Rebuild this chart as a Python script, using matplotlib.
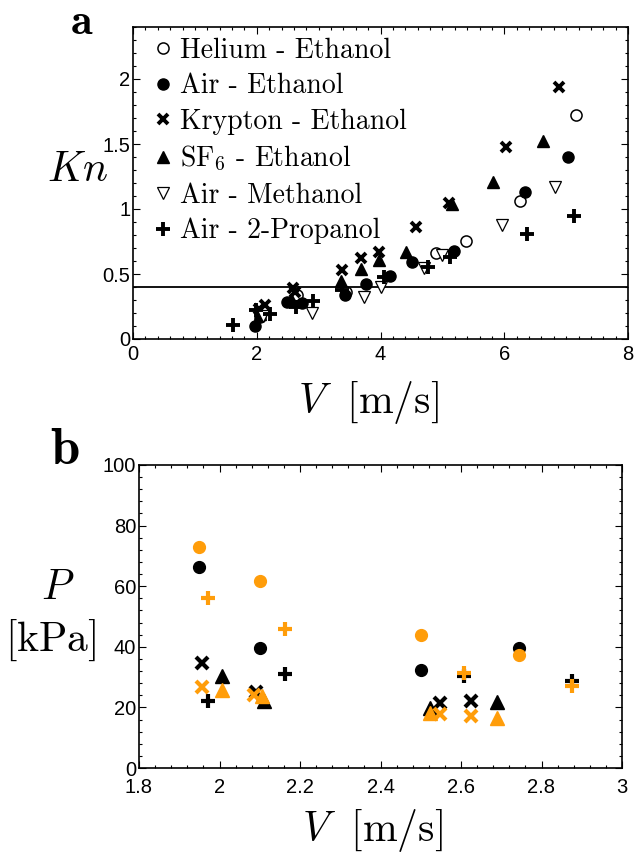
import matplotlib
matplotlib.use("Agg")
import matplotlib.pyplot as plt
from matplotlib.ticker import MultipleLocator

plt.rcParams['mathtext.fontset'] = 'cm'
plt.rcParams['font.family'] = ['Liberation Sans', 'DejaVu Sans']

# ---------------- Panel a data: Kn vs V ----------------
he_eth_V  = [7.16, 6.25, 5.38, 4.89, 3.45, 2.65]
he_eth_Kn = [1.72, 1.06, 0.756, 0.66, 0.36, 0.34]

air_eth_V  = [7.03, 6.33, 5.18, 4.51, 4.16, 3.77, 3.42, 2.73, 2.49, 2.06, 1.97]
air_eth_Kn = [1.40, 1.13, 0.68, 0.59, 0.485, 0.423, 0.34, 0.28, 0.287, 0.17, 0.10]

kr_eth_V  = [6.89, 6.03, 5.10, 4.58, 3.98, 3.69, 3.38, 2.58, 2.62, 2.13, 2.03]
kr_eth_Kn = [1.936, 1.48, 1.05, 0.86, 0.67, 0.62, 0.53, 0.39, 0.36, 0.26, 0.23]

sf6_eth_V  = [6.62, 5.82, 5.15, 4.42, 3.98, 3.69, 3.36, 2.55, 2.05]
sf6_eth_Kn = [1.52, 1.21, 1.04, 0.67, 0.61, 0.54, 0.45, 0.31, 0.19]

air_meth_V  = [6.82, 5.97, 5.00, 4.70, 4.01, 3.73, 2.89, 2.10]
air_meth_Kn = [1.17, 0.88, 0.65, 0.55, 0.40, 0.326, 0.20, 0.18]

air_prop_V  = [7.12, 6.37, 5.12, 4.76, 4.05, 3.38, 2.91, 2.63, 2.22, 1.98, 1.62]
air_prop_Kn = [0.95, 0.81, 0.63, 0.556, 0.48, 0.377, 0.29, 0.25, 0.19, 0.22, 0.108]

kn_threshold = 0.4

# ---------------- Panel b data: P vs V ----------------
circ_blk_V = [1.95, 2.10, 2.50, 2.745]
circ_blk_P = [66.2, 39.5, 32.3, 39.7]
circ_org_V = [1.95, 2.10, 2.50, 2.745]
circ_org_P = [73.0, 61.8, 43.9, 37.3]

x_blk_V = [1.957, 2.09, 2.548, 2.626]
x_blk_P = [34.5, 25.2, 21.6, 22.1]
x_org_V = [1.957, 2.085, 2.548, 2.626]
x_org_P = [26.8, 24.0, 17.7, 17.2]

tri_blk_V = [2.007, 2.11, 2.523, 2.69]
tri_blk_P = [30.4, 22.2, 19.9, 21.9]
tri_org_V = [2.007, 2.105, 2.523, 2.69]
tri_org_P = [25.7, 23.9, 18.0, 16.4]

plus_blk_V = [1.972, 2.163, 2.607, 2.875]
plus_blk_P = [22.1, 31.0, 30.4, 28.7]
plus_org_V = [1.972, 2.163, 2.607, 2.875]
plus_org_P = [56.2, 45.9, 31.5, 27.2]

ORANGE = '#FF9D0A'

fig = plt.figure(figsize=(6.34, 8.61), dpi=100)
axa = fig.add_axes([133/634, 1-339/861, (628-133)/634, (339-27)/861])
axb = fig.add_axes([139/634, 1-768/861, (622-139)/634, (768-465)/861])

for ax in (axa, axb):
    ax.tick_params(which='both', direction='in', top=True, right=True,
                   labelsize=14.5, width=0.8)
    ax.tick_params(which='major', length=5)
    ax.tick_params(which='minor', length=2.5)
    for s in ax.spines.values():
        s.set_linewidth(1.2)

# ---- panel a ----
axa.plot(he_eth_V, he_eth_Kn, 'o', mfc='white', mec='black', mew=1.1, ms=8,
         ls='none', label='Helium - Ethanol', zorder=3)
axa.plot(air_eth_V, air_eth_Kn, 'o', color='black', ms=8, ls='none',
         label='Air - Ethanol', zorder=3)
axa.plot(kr_eth_V, kr_eth_Kn, 'x', color='black', mew=2.8, ms=7, ls='none',
         label='Krypton - Ethanol', zorder=3)
axa.plot(sf6_eth_V, sf6_eth_Kn, '^', color='black', ms=8.5, ls='none',
         label='SF$_6$ - Ethanol', zorder=3)
axa.plot(air_meth_V, air_meth_Kn, 'v', mfc='white', mec='black', mew=0.9, ms=9,
         ls='none', label='Air - Methanol', zorder=3)
axa.plot(air_prop_V, air_prop_Kn, '+', color='black', mew=2.8, ms=10, ls='none',
         label='Air - 2-Propanol', zorder=3)
axa.axhline(kn_threshold, color='black', lw=1.3, zorder=2)

axa.set_xlim(0, 8)
axa.set_ylim(0, 2.4)
axa.set_xticks([0, 2, 4, 6, 8])
axa.set_yticks([0, 0.5, 1, 1.5, 2])
axa.set_yticklabels(['0', '0.5', '1', '1.5', '2'])
axa.xaxis.set_minor_locator(MultipleLocator(0.2))
axa.yaxis.set_minor_locator(MultipleLocator(0.1))
axa.tick_params(axis='y', pad=2)
axa.tick_params(axis='x', pad=4)

leg = axa.legend(loc='upper left', frameon=False, handlelength=0.6,
                 handletextpad=0.3, labelspacing=0.33, borderaxespad=0.0,
                 borderpad=0.0, prop={'family': 'cmr10', 'size': 20},
                 bbox_to_anchor=(0.044, 0.966))

fig.text(78/634, 1-170/861, r'$Kn$', fontsize=30, ha='center', va='center')
fig.text(368/634, 1-403/861, r'$V\ \ [\mathrm{m/s}]$', fontsize=30, ha='center', va='center')
fig.text(82/634, 1-34/861, r'$\mathbf{a}$', fontsize=32, ha='center', va='baseline')

# ---- panel b ----
ms_b = 8.5
axb.plot(circ_blk_V, circ_blk_P, 'o', color='black', ms=ms_b, ls='none', zorder=3)
axb.plot(x_blk_V, x_blk_P, 'x', color='black', mew=3, ms=8, ls='none', zorder=3)
axb.plot(tri_blk_V, tri_blk_P, '^', color='black', ms=10, ls='none', zorder=3)
axb.plot(plus_blk_V, plus_blk_P, '+', color='black', mew=3, ms=10, ls='none', zorder=3)
axb.plot(circ_org_V, circ_org_P, 'o', color=ORANGE, ms=ms_b, ls='none', zorder=4)
axb.plot(x_org_V, x_org_P, 'x', color=ORANGE, mew=3, ms=8, ls='none', zorder=4)
axb.plot(tri_org_V, tri_org_P, '^', color=ORANGE, ms=10, ls='none', zorder=4)
axb.plot(plus_org_V, plus_org_P, '+', color=ORANGE, mew=3, ms=10, ls='none', zorder=4)

axb.set_xlim(1.8, 3.0)
axb.set_ylim(0, 100)
axb.set_xticks([1.8, 2.0, 2.2, 2.4, 2.6, 2.8, 3.0])
axb.set_xticklabels(['1.8', '2', '2.2', '2.4', '2.6', '2.8', '3'])
axb.set_yticks([0, 20, 40, 60, 80, 100])
axb.xaxis.set_minor_locator(MultipleLocator(0.04))
axb.yaxis.set_minor_locator(MultipleLocator(4))
axb.tick_params(axis='y', pad=2)
axb.tick_params(axis='x', pad=7.5)

fig.text(58/634, 1-588/861, r'$P$', fontsize=30, ha='center', va='center')
fig.text(51/634, 1-640/861, r'$[\mathrm{kPa}]$', fontsize=30, ha='center', va='center')
fig.text(65/634, 1-450/861, r'$\mathbf{b}$', fontsize=38, ha='center', va='center')
fig.text(372/634, 1-830/861, r'$V\ \ [\mathrm{m/s}]$', fontsize=30, ha='center', va='center')

fig.savefig('out.png', dpi=100)
